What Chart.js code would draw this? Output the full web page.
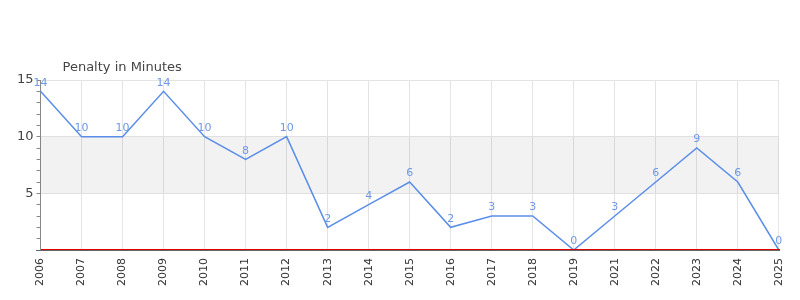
<!DOCTYPE html>
<html>
<head>
<meta charset="utf-8">
<script src="https://cdn.jsdelivr.net/npm/chart.js@4"></script>
<style>
  html, body { margin: 0; padding: 0; background: #fff; }
  #wrap { width: 800px; height: 300px; position: relative; }
</style>
</head>
<body>
<div id="wrap"><canvas id="chart"></canvas></div>
<script>
// Data
const years = ['2006', '2007', '2008', '2009', '2010', '2011', '2012', '2013', '2014', '2015',
               '2016', '2017', '2018', '2019', '2021', '2022', '2023', '2024', '2025'];
const penaltyMinutes = [14, 10, 10, 14, 10, 8, 10, 2, 4, 6, 2, 3, 3, 0, 3, 6, 9, 6, 0];
const bandRange = [5, 10];
const chartTitle = 'Penalty in Minutes';

// Shaded band, red zero line, axis line, title and value labels
const extras = {
    id: 'extras',
    beforeDatasetsDraw(chart) {
        const { ctx, chartArea, scales } = chart;
        const y = scales.y;
        const top = y.getPixelForValue(bandRange[1]);
        const bottom = y.getPixelForValue(bandRange[0]);
        ctx.save();
        ctx.fillStyle = 'rgba(0, 0, 0, 0.05)';
        ctx.fillRect(chartArea.left, top, chartArea.right - chartArea.left, bottom - top);
        ctx.restore();
    },
    afterDatasetsDraw(chart) {
        const { ctx, chartArea, scales } = chart;
        const row = Math.round(scales.y.getPixelForValue(0));
        const left = Math.round(chartArea.left);
        const w = Math.round(chartArea.right) - left + 1;
        ctx.save();
        ctx.fillStyle = '#e00000';
        ctx.fillRect(left, row - 1, w, 1);
        ctx.fillStyle = '#666';
        ctx.fillRect(left - 5, row, w + 5, 1);

        const meta = chart.getDatasetMeta(0);
        ctx.font = '11px "DejaVu Sans", sans-serif';
        ctx.fillStyle = '#6f98e6';
        ctx.textAlign = 'center';
        ctx.textBaseline = 'bottom';
        meta.data.forEach((pt, i) => {
            ctx.fillText(String(penaltyMinutes[i]), pt.x, pt.y - 3);
        });

        ctx.font = '13px "DejaVu Sans", sans-serif';
        ctx.fillStyle = '#444';
        ctx.textAlign = 'left';
        ctx.textBaseline = 'alphabetic';
        ctx.fillText(chartTitle, chartArea.left + 22, chartArea.top - 9);
        ctx.restore();
    }
};

new Chart(document.getElementById('chart'), {
    type: 'line',
    data: {
        labels: years,
        datasets: [{
            data: penaltyMinutes,
            borderColor: '#5b8ee8',
            borderWidth: 1.5,
            pointRadius: 0,
            tension: 0,
            fill: false
        }]
    },
    options: {
        responsive: true,
        maintainAspectRatio: false,
        animation: false,
        layout: { padding: { top: 80, right: 18, left: 14, bottom: 6 } },
        plugins: {
            legend: { display: false },
            tooltip: { enabled: false }
        },
        scales: {
            x: {
                offset: false,
                grid: { color: '#e4e4e4', drawTicks: false },
                border: { display: false },
                ticks: {
                    color: '#333',
                    font: { size: 11, family: '"DejaVu Sans", sans-serif' },
                    minRotation: 90,
                    maxRotation: 90,
                    padding: 8,
                    autoSkip: false
                }
            },
            y: {
                min: 0,
                max: 15,
                grid: {
                    color: c => (c.tick && c.tick.value % 5 === 0 && c.tick.value !== 0) ? '#e4e4e4' : 'rgba(0,0,0,0)',
                    tickColor: '#888',
                    tickLength: 4
                },
                border: { color: '#888', width: 1 },
                ticks: {
                    stepSize: 1,
                    autoSkip: false,
                    color: '#444',
                    font: { size: 13, family: '"DejaVu Sans", sans-serif' },
                    padding: 3,
                    callback: v => (v % 5 === 0 && v !== 0) ? v : ''
                }
            }
        }
    },
    plugins: [extras]
});
</script>
</body>
</html>
